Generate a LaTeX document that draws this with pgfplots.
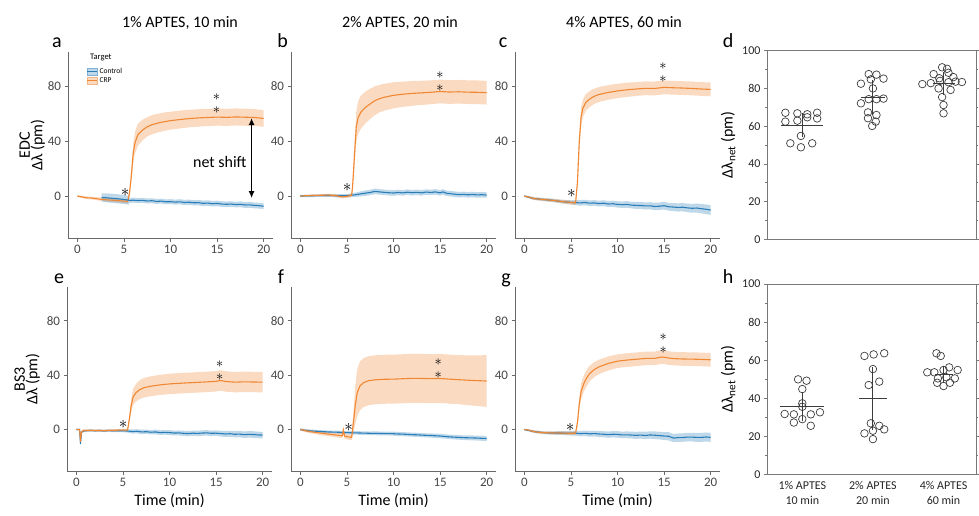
\documentclass[border=0pt]{standalone}
\usepackage{fontspec}
\setmainfont{Carlito}
\usepackage{pgfplots}
\pgfplotsset{compat=1.18}
\usepackage{pgfplotstable}
\usepgfplotslibrary{fillbetween}
\usetikzlibrary{arrows.meta}

\definecolor{orangeL}{RGB}{240,135,50}
\definecolor{blueL}{RGB}{40,125,185}
\definecolor{axgray}{RGB}{105,105,105}
\definecolor{lblgray}{RGB}{70,70,70}
\definecolor{boxgray}{RGB}{120,120,120}
\definecolor{dotgray}{RGB}{60,60,60}

% ---------- time courses: t, mean, sd ----------
\pgfplotstableread{
t m s
0 0 0.6
0.5 -0.6 0.8
1 -1.3 1
1.5 -1.4 1
2 -1.9 1.1
2.5 -2.3 1.2
3 -2.7 1.3
3.5 -2.9 1.3
4 -3.1 1.4
4.5 -3.4 1.4
5 -3.7 1.5
5.4 -4.0 1.5
5.6 2 3
5.8 15 5
6.0 31 7
6.2 39 8
6.5 44.5 8
7 48 7.5
7.5 50.3 7
8 51.8 7
8.5 52.8 6.8
9 53.6 6.8
10 54.8 6.5
11 55.6 6.5
12 56.3 6.4
13 56.8 6.3
14 57.1 6.3
15 57.4 6.2
16 57.2 6.2
17 57.5 6.2
18 57.3 6.2
19 57.1 6.1
20 56.4 6
}\aO
\pgfplotstableread{
t m s
2.6 -1.0 3
3 -1.2 3.2
3.5 -1.5 3.3
4 -1.8 3.3
4.5 -2.1 3.3
5 -2.5 3.3
5.5 -3.0 3.2
5.6 -3.2 1.8
6 -3.0 1.8
6.5 -3.3 1.8
7 -3.1 1.8
7.5 -3.6 1.8
8 -3.4 1.8
8.5 -3.9 1.8
9 -3.7 1.8
9.5 -4.2 1.8
10 -4.1 1.8
10.5 -4.4 1.8
11 -4.2 1.9
11.5 -4.7 1.9
12 -4.5 1.9
12.5 -4.9 1.9
13 -4.8 2
13.5 -5.3 2
14 -5.1 2
14.5 -5.6 2
15 -5.4 2
15.5 -5.8 2
16 -6.0 2
16.5 -5.8 2
17 -6.2 2
17.5 -6.0 2.1
18 -6.5 2.1
18.5 -6.4 2.1
19 -6.8 2.1
19.5 -7.0 2.1
20 -7.4 2.1
}\aB
\pgfplotstableread{
t m s
0 0 0.6
0.5 0.2 0.6
1 0.3 0.7
1.5 0.5 0.8
2 0.5 0.8
2.5 0.6 0.9
3 0.7 1
3.5 0.5 1
4 0.1 1
4.5 -0.6 1.2
5 -0.2 1.2
5.5 0.5 1.3
5.6 6 4
5.8 28 8
6.0 50 11
6.2 57 12
6.5 61 12
7 64.5 11.5
7.5 67 11
8 69.3 10.5
8.5 70.8 10
9 71.8 9.8
10 73.2 9.5
11 74 9.2
12 74.6 9
13 75 8.8
14 75.4 8.7
15 76 8.6
16 75.6 8.6
17 75.8 8.6
18 75.5 8.6
19 75.4 8.6
20 75.1 8.6
}\bO
\pgfplotstableread{
t m s
0 0 0.8
1 0.2 0.9
2 0.3 1
3 0.4 1
4 0.2 1.1
5 0.3 1.2
5.5 0.6 1.3
6 1.0 1.6
6.5 1.6 1.8
7 2.1 2
7.5 2.6 2
8 3.4 2
8.5 3.0 2
9 2.7 2
9.5 2.4 2
10 2.2 2
10.5 2.6 2
11 2.3 2
11.5 2.8 2
12 2.4 2
12.5 2.7 2
13 2.3 2
13.5 2.9 2
14 2.6 2
14.5 3.0 2
15 2.3 2
15.3 3.0 2
15.7 2.0 2
16 1.8 2
16.5 1.4 2
17 1.0 2
17.5 1.2 2
18 0.9 2
18.5 1.1 2
19 0.8 2
19.5 1.0 2
20 0.7 2
}\bB
\pgfplotstableread{
t m s
0 0 0.6
0.5 -0.8 0.8
1 -1.8 1
1.5 -2.2 1
2 -2.5 1.1
2.5 -2.8 1.1
3 -3.1 1.2
3.5 -3.5 1.2
4 -4.0 1.3
4.5 -4.3 1.3
5 -4.7 1.4
5.5 -5.0 1.4
5.7 10 4
5.9 40 7
6.1 58 7
6.3 64 6.5
6.6 68 6
7 70.5 5.8
7.5 72.5 5.5
8 73.8 5.5
9 75.3 5.3
10 76.4 5.2
11 77.2 5.2
12 77.8 5
13 78.3 5
14 78.2 5
15 79.0 5
16 78.7 5
17 78.5 5
18 78.2 5
19 77.8 5
20 77.5 5
}\cO
\pgfplotstableread{
t m s
0 0 0.6
1 -1.8 1
2 -2.5 1.1
3 -3.1 1.2
4 -4.0 1.3
5 -4.6 1.5
5.5 -4.8 1.8
6 -5.0 2
6.5 -4.7 2
7 -5.2 2
7.5 -5.0 2
8 -5.5 2.1
8.5 -5.2 2.1
9 -5.8 2.2
9.5 -5.6 2.2
10 -6.1 2.3
10.5 -6.3 2.3
11 -6.1 2.4
11.5 -6.6 2.4
12 -6.8 2.5
12.5 -6.9 2.5
13 -7.2 2.6
13.5 -7.1 2.6
14 -7.6 2.7
14.5 -7.4 2.7
15 -7.0 2.8
15.5 -7.8 2.8
16 -8.0 2.9
16.5 -8.3 3
17 -8.1 3
17.5 -8.6 3.1
18 -8.9 3.2
18.5 -8.7 3.3
19 -9.2 3.4
19.5 -9.6 3.5
20 -10.2 3.5
}\cB
\pgfplotstableread{
t m s
0 0 0.5
0.35 0 0.5
0.45 -9 1
0.55 -2 1
0.8 -0.6 0.8
1 -0.8 0.8
1.5 -0.6 0.8
2 -0.8 0.8
2.5 -0.7 0.8
3 -0.9 0.8
3.5 -0.6 0.8
4 -0.7 0.9
4.5 -0.5 0.9
5 -0.4 0.9
5.5 -0.5 1
5.7 8 3
5.9 18 5
6.1 24 6
6.4 27 6.5
6.8 29.3 7
7.3 30.8 7.2
8 31.8 7.3
9 32.8 7.4
10 33.5 7.5
11 33.9 7.5
12 34.3 7.5
13 34.6 7.5
14 35 7.5
15 35.4 7.5
15.5 36 7.5
16 35.3 7.5
17 34.8 7.5
18 35 7.5
19 34.9 7.5
20 34.8 7.5
}\eO
\pgfplotstableread{
t m s
0 0 0.5
0.35 0 0.5
0.45 -10.5 1
0.55 -2 1
0.8 -1 0.8
1 -0.9 0.8
1.5 -0.7 0.8
2 -0.9 0.8
2.5 -0.8 0.9
3 -1.0 0.9
3.5 -0.8 0.9
4 -1.0 1
4.5 -0.9 1
5 -1.0 1
5.5 -1.1 1.2
6 -1.5 1.5
6.5 -1.3 1.5
7 -1.8 1.6
7.5 -1.6 1.6
8 -2.0 1.6
8.5 -1.8 1.7
9 -2.3 1.7
9.5 -2.1 1.7
10 -2.3 1.8
10.5 -2.6 1.8
11 -2.5 1.8
11.5 -2.8 1.9
12 -3.0 1.9
12.5 -2.7 1.9
13 -2.9 2
13.5 -2.6 2
14 -2.5 2
14.5 -2.8 2
15 -2.7 2
15.5 -3.0 2.1
16 -3.3 2.2
16.5 -3.1 2.2
17 -3.5 2.3
17.5 -3.4 2.3
18 -3.8 2.4
18.5 -3.6 2.4
19 -3.7 2.4
19.5 -4.0 2.4
20 -4.1 2.4
}\eB
\pgfplotstableread{
t m s
0 0 0.8
0.5 -0.8 1
1 -1.5 1.2
1.5 -2.0 1.3
2 -2.5 1.4
2.5 -2.9 1.5
3 -3.4 1.5
3.5 -3.8 1.6
4 -4.2 1.7
4.5 -4.6 1.8
4.62 -0.5 3
4.75 -4.8 2
5 -5.3 2
5.5 -5.8 2
5.7 5 8
5.9 18 14
6.1 27 17
6.4 32 18
6.8 34.5 18
7.3 35.8 18
8 36.5 18
9 36.9 18
10 37 18
11 37.3 18
12 37.6 18
13 37.5 18
14 37.4 18
15 37.5 18
16 37 18
17 36.6 18
18 36.2 18.3
19 35.9 18.6
20 35.6 19
}\fO
\pgfplotstableread{
t m s
0 0 0.8
0.5 -0.6 0.9
1 -1.0 1
1.5 -1.2 1
2 -1.4 1
2.5 -1.6 1
3 -1.8 1
3.5 -1.9 1
4 -2.0 1.1
4.5 -2.1 1.1
5 -2.3 1.2
5.5 -2.4 1.2
6 -2.5 1.3
6.5 -2.6 1.3
7 -2.7 1.3
7.5 -2.8 1.3
8 -2.8 1.4
8.5 -2.9 1.4
9 -3.0 1.4
9.5 -3.0 1.4
10 -3.1 1.5
10.5 -3.3 1.5
11 -3.4 1.5
11.5 -3.6 1.5
12 -3.8 1.5
12.5 -3.9 1.5
13 -4.1 1.5
13.5 -4.3 1.5
14 -4.4 1.6
14.5 -4.6 1.6
15 -4.8 1.6
15.5 -5.1 1.6
16 -5.4 1.6
16.5 -5.6 1.7
17 -5.8 1.7
17.5 -6.0 1.7
18 -6.1 1.7
18.5 -6.2 1.8
19 -6.3 1.8
19.5 -6.5 1.8
20 -6.6 1.8
}\fB
\pgfplotstableread{
t m s
0 0 0.6
0.5 -0.5 0.7
1 -1.5 0.9
1.5 -2.0 1
2 -2.3 1
2.5 -2.4 1.1
3 -2.6 1.1
3.5 -2.5 1.1
4 -2.6 1.2
4.5 -2.7 1.2
5 -2.8 1.2
5.5 -2.7 1.3
5.7 5 3
5.9 19 5
6.1 28 6
6.4 34 6
6.7 38 6
7 41 5.8
7.5 44 5.5
8 46 5.3
9 48.5 5.2
10 50.2 5
11 51 5
12 51.6 5
13 52.2 5
14 52.3 5
14.8 53.3 5
15.5 52.5 5
16 52.1 5
17 51.8 5
18 51.7 5
19 51.5 5
20 51.2 5
}\gO
\pgfplotstableread{
t m s
0 0 0.6
1 -1.5 0.9
2 -2.3 1
3 -2.6 1.2
4 -2.6 1.4
5 -2.8 1.6
5.5 -2.7 1.8
6 -3.0 2
6.5 -2.8 2
7 -3.2 2.1
7.5 -3.0 2.1
8 -3.3 2.2
8.5 -3.5 2.2
9 -3.8 2.3
9.5 -3.5 2.3
10 -3.6 2.4
10.5 -4.0 2.4
11 -3.9 2.5
11.5 -4.1 2.5
12 -4.3 2.6
12.5 -4.1 2.6
13 -4.4 2.7
13.5 -4.0 2.7
14 -4.2 2.8
14.5 -4.5 2.8
15 -4.8 2.9
15.5 -5.0 3
16 -6.3 3
16.5 -6.0 3.1
17 -5.9 3.1
17.5 -5.6 3.2
18 -5.6 3.2
18.5 -5.8 3.3
19 -5.8 3.3
19.5 -5.5 3.3
20 -5.8 3.3
}\gB

% ---------- individual net shifts ----------
\pgfplotstableread{
x y
0.76 67.1
0.93 66.8
1.07 66.3
1.21 67.1
0.76 62.4
0.93 62.9
1.07 64.7
1.21 64.1
0.98 54.8
0.83 50.9
0.98 48.8
1.14 50.9
1.94 87.6
2.05 87.3
2.15 85.2
1.97 84.8
1.83 82.5
2.00 80.0
1.83 72.1
1.94 74.3
2.05 74.3
2.15 74.6
1.93 67.3
2.05 65.9
1.93 64.2
2.04 62.4
1.99 60.1
2.98 91.2
3.05 90.4
2.86 87.6
3.07 88.3
2.94 85.4
3.14 86.0
2.70 82.3
2.82 82.8
3.07 83.3
3.17 83.6
3.26 83.4
2.93 80.0
3.10 79.2
2.98 75.4
3.00 71.2
3.00 66.8
2.95 84.0
}\dPts
\pgfplotstableread{
x y
0.94 49.9
1.06 49.2
1.00 44.8
1.00 37.3
1.00 35.5
0.75 31.7
0.88 31.5
1.12 31.5
1.25 32.6
0.88 27.2
1.00 29.0
1.12 25.5
1.88 62.2
2.01 63.0
2.16 63.6
2.00 55.3
1.94 46.9
2.09 48.7
1.97 26.8
1.88 21.5
2.09 25.5
2.16 23.6
2.00 22.9
2.00 18.5
2.90 63.6
2.96 62.2
3.08 56.2
2.87 53.6
3.00 54.8
3.20 54.8
2.77 53.6
2.92 50.4
3.16 50.4
3.04 51.0
2.91 48.1
3.09 48.1
3.00 46.4
}\hPts

\pgfplotsset{
  ts/.style={scale only axis, width=205pt, anchor=south west,
    xmin=-1, xmax=21, ymin=-30.5, ymax=104.7,
    axis lines*=left, axis line style={draw=axgray, line width=0.9pt},
    xtick={0,5,10,15,20}, ytick={0,40,80},
    tick align=outside, major tick length=3.5pt,
    tick style={draw=axgray, line width=0.8pt},
    ticklabel style={font=\fontsize{13}{13}\selectfont, text=lblgray},
    /pgf/number format/assume math mode=true,
    xlabel style={font=\fontsize{16}{16}\selectfont},
    ylabel style={font=\fontsize{16}{12.5}\selectfont, align=center},
    clip=false},
  dot/.style={scale only axis, width=209pt, anchor=south west,
    xmin=0.5, xmax=3.46, ymin=0, ymax=100,
    ytick={0,20,...,100}, minor y tick num=1,
    tick align=outside, ytick pos=both, yticklabel pos=left,
    major tick length=3pt, minor tick length=2pt,
    axis line style={draw=boxgray, line width=0.8pt},
    tick style={draw=boxgray, line width=0.7pt},
    ticklabel style={font=\fontsize{12}{12}\selectfont, text=black!85},
    /pgf/number format/assume math mode=true,
    ylabel style={font=\fontsize{16}{16}\selectfont},
    clip=false},
  pts/.style={only marks, mark=o, mark size=3.8pt, mark options={draw=dotgray, line width=0.7pt}},
}

\newcommand{\band}[3]{%
  \addplot[name path=#3u, draw=none, forget plot] table[x=t, y expr=\thisrow{m}+\thisrow{s}] {#1};
  \addplot[name path=#3l, draw=none, forget plot] table[x=t, y expr=\thisrow{m}-\thisrow{s}] {#1};
  \addplot[fill=#2, fill opacity=0.3, draw=none, forget plot] fill between[of=#3u and #3l];
}
\newcommand{\mline}[2]{\addplot[#2, line width=1.1pt, forget plot] table[x=t, y=m] {#1};}
\newcommand{\msd}[4]{% x, mean, sd, half-width (pt)
  \addplot[only marks, mark=-, mark size=#4, mark options={draw=dotgray, line width=0.9pt},
    error bars/.cd, y dir=both, y explicit, error mark=none,
    error bar style={draw=dotgray, line width=0.9pt}] coordinates {(#1,#2) +- (0,#3)};
}
\newcommand{\st}{\fontsize{16}{16}\selectfont$\ast$}
\tikzset{dst/.style={align=center, inner sep=0pt, font=\fontsize{14.5}{13}\selectfont}}
\newcommand{\dst}{$\ast$\\$\ast$}

\begin{document}
\begin{tikzpicture}

% ----- a -----
\begin{axis}[ts, at={(68pt,277pt)}, height=186pt, ylabel={EDC\\Δλ (pm)}, ylabel shift=-4pt,
  legend style={at={(0.09,0.925)}, anchor=north west, draw=none, fill=none,
    font=\fontsize{7.5}{8}\selectfont, row sep=-1.5pt, inner sep=0pt},
  legend cell align=left]
\addlegendimage{legend image code/.code={\fill[blueL, fill opacity=0.3] (0pt,-3.5pt) rectangle (10pt,3.5pt); \draw[blueL!60, line width=0.4pt] (0pt,-3.5pt) rectangle (10pt,3.5pt); \draw[blueL, line width=0.9pt] (0pt,0pt)--(10pt,0pt);}}
\addlegendentry{Control}
\addlegendimage{legend image code/.code={\fill[orangeL, fill opacity=0.3] (0pt,-3.5pt) rectangle (10pt,3.5pt); \draw[orangeL!60, line width=0.4pt] (0pt,-3.5pt) rectangle (10pt,3.5pt); \draw[orangeL, line width=0.9pt] (0pt,0pt)--(10pt,0pt);}}
\addlegendentry{CRP}
\band{\aO}{orangeL}{aO}
\band{\aB}{blueL}{aB}
\mline{\aO}{orangeL}
\mline{\aB}{blueL}
\node[anchor=west, font=\fontsize{8.5}{9}\selectfont] at (axis cs:1.0,101) {Target};
\node at (axis cs:5.13,2.5) {\st};
\node[dst] at (axis cs:14.94,67) {\dst};
\draw[{Latex[length=7pt,width=6pt]}-{Latex[length=7pt,width=6pt]}, line width=1.3pt] (axis cs:18.7,56.7) -- (axis cs:18.7,-1.5);
\node[font=\fontsize{16}{16}\selectfont, fill=white, inner sep=1pt] at (axis cs:15.3,24.7) {net shift};
\end{axis}

% ----- b -----
\begin{axis}[ts, at={(291pt,277pt)}, height=186pt]
\band{\bB}{blueL}{bB}
\band{\bO}{orangeL}{bO}
\mline{\bB}{blueL}
\mline{\bO}{orangeL}
\node at (axis cs:5.04,6.5) {\st};
\node[dst] at (axis cs:15,83) {\dst};
\end{axis}

% ----- c -----
\begin{axis}[ts, at={(515pt,277pt)}, height=186pt]
\band{\cB}{blueL}{cB}
\band{\cO}{orangeL}{cO}
\mline{\cB}{blueL}
\mline{\cO}{orangeL}
\node at (axis cs:5.06,1.5) {\st};
\node[dst] at (axis cs:14.87,89.5) {\dst};
\end{axis}

% ----- e -----
\begin{axis}[ts, at={(67pt,44pt)}, height=184pt, ylabel={BS3\\Δλ (pm)}, xlabel={Time (min)}]
\band{\eB}{blueL}{eB}
\band{\eO}{orangeL}{eO}
\mline{\eB}{blueL}
\mline{\eO}{orangeL}
\node at (axis cs:5.03,3.5) {\st};
\node[dst] at (axis cs:15.4,43.5) {\dst};
\end{axis}

% ----- f -----
\begin{axis}[ts, at={(291pt,44pt)}, height=184pt, xlabel={Time (min)}]
\band{\fB}{blueL}{fB}
\band{\fO}{orangeL}{fO}
\mline{\fB}{blueL}
\mline{\fO}{orangeL}
\node at (axis cs:5.2,1.5) {\st};
\node[dst] at (axis cs:14.8,44.7) {\dst};
\end{axis}

% ----- g -----
\begin{axis}[ts, at={(515pt,44pt)}, height=184pt, xlabel={Time (min)}]
\band{\gB}{blueL}{gB}
\band{\gO}{orangeL}{gO}
\mline{\gB}{blueL}
\mline{\gO}{orangeL}
\node at (axis cs:4.93,1.8) {\st};
\node[dst] at (axis cs:14.9,62.9) {\dst};
\end{axis}

% ----- d -----
\begin{axis}[dot, at={(767pt,275.7pt)}, height=188.6pt, xtick=\empty,
  ylabel={Δλ\textsubscript{net} (pm)}]
\addplot[pts] table[x=x, y=y] {\dPts};
\msd{1}{60.6}{6.5}{21pt}
\msd{2}{75.2}{9.5}{12pt}
\msd{3}{82.7}{6.2}{11pt}
\end{axis}

% ----- h -----
\begin{axis}[dot, at={(767pt,40.7pt)}, height=190.3pt,
  xtick={1,2,3}, xtick style={draw=none},
  xticklabels={{1\% APTES\\10 min},{2\% APTES\\20 min},{4\% APTES\\60 min}},
  xticklabel style={align=center, font=\fontsize{12}{15}\selectfont},
  ylabel={Δλ\textsubscript{net} (pm)}]
\addplot[pts] table[x=x, y=y] {\hPts};
\msd{1}{35.5}{7.5}{22pt}
\msd{2}{39.9}{16.5}{14pt}
\msd{3}{52.5}{4.5}{9pt}
\end{axis}

% ----- titles and panel letters -----
\node[font=\fontsize{16}{16}\selectfont, anchor=base] at (180pt,487pt) {1\% APTES, 10 min};
\node[font=\fontsize{16}{16}\selectfont, anchor=base] at (400pt,487pt) {2\% APTES, 20 min};
\node[font=\fontsize{16}{16}\selectfont, anchor=base] at (624pt,487pt) {4\% APTES, 60 min};
\foreach \l/\x in {a/57,b/282.5,c/503,d/728}
  \node[font=\fontsize{20}{20}\selectfont, anchor=base] at (\x pt,467pt) {\l};
\foreach \l/\x in {e/59,f/281,g/506,h/728}
  \node[font=\fontsize{20}{20}\selectfont, anchor=base] at (\x pt,232pt) {\l};

\pgfresetboundingbox
\path[use as bounding box] (0pt,0pt) rectangle (979pt,515pt);
\end{tikzpicture}
\end{document}
